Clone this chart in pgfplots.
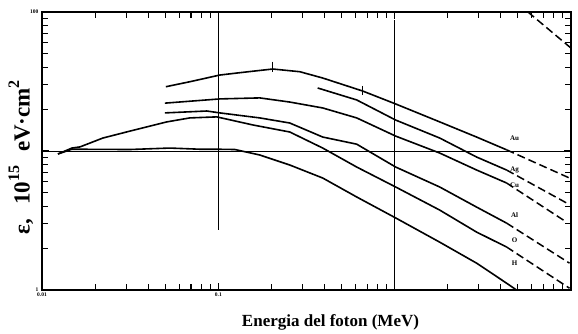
\documentclass[border=0pt]{standalone}
\usepackage{fontspec}
\setmainfont{Liberation Serif}
\usepackage{pgfplots}
\pgfplotsset{compat=1.18}
\begin{document}
\begin{tikzpicture}
\useasboundingbox (-42pt,-43pt) rectangle (536pt,290pt);
\begin{axis}[
  at={(0,0)}, anchor=south west,
  scale only axis, width=529pt, height=278pt,
  xmode=log, ymode=log,
  xmin=0.01, xmax=10, ymin=1, ymax=100,
  axis line style={line width=1.4pt},
  xtick={0.01,0.1,1,10}, xticklabels={0.01,0.1,,},
  ytick={1,10,100}, yticklabels={1,,100},
  minor xtick={0.02,0.03,0.04,0.05,0.06,0.07,0.08,0.09,0.2,0.3,0.4,0.5,0.6,0.7,0.8,0.9,2,3,4,5,6,7,8,9},
  minor ytick={2,3,4,5,6,7,8,9,20,30,40,50,60,70,80,90},
  tick align=inside, major tick length=7pt, minor tick length=6pt,
  every tick/.style={line width=1.1pt, black},
  /pgf/number format/assume math mode=true,
  ticklabel style={font=\fontsize{5.5}{6}\selectfont\bfseries},
  xticklabel style={yshift=1pt},
  xlabel={Energia del foton (MeV)},
  xlabel style={font=\fontsize{17}{19}\selectfont\bfseries, at={(axis description cs:0.5,0)}, anchor=base, yshift=-36pt, xshift=24pt},
  ylabel={ε,\hspace{0.6em}10\raisebox{0.45em}{\fontsize{16}{17}\selectfont 15}\hspace{0.6em}eV·cm\raisebox{0.45em}{\fontsize{16}{17}\selectfont 2}},
  ylabel style={font=\fontsize{23}{25}\selectfont\bfseries, at={(axis description cs:-0.040,0.478)}, anchor=center},
  crv/.style={black, solid, line width=1.6pt},
  dsh/.style={black, line width=1.5pt, dash pattern=on 8pt off 4pt},
  grd/.style={black, solid, line width=1pt},
]
% grid lines
\addplot[grd] coordinates {(0.01,10) (10,10)};
\addplot[grd] coordinates {(0.1,100) (0.1,2.7)};
\addplot[grd] coordinates {(1,87) (1,1)};
% Au
\addplot[crv] coordinates {(0.0504,29.0) (0.0689,31.5) (0.102,35.2) (0.1324,36.6) (0.2036,38.9) (0.2895,37.2) (0.391,33.5) (0.659,27.0) (1.013,21.8) (1.80,16.2) (2.915,12.6) (4.31,10.2)};
\addplot[dsh] coordinates {(4.31,10.2) (9.81,6.39)};
\addplot[grd] coordinates {(0.2036,43.9) (0.2036,37.2)};
\addplot[grd] coordinates {(0.659,29.4) (0.659,25.3)};
% Ag
\addplot[crv] coordinates {(0.366,28.4) (0.609,23.3) (1.013,16.7) (1.80,12.4) (2.915,9.05) (4.31,7.30)};
\addplot[dsh] coordinates {(4.31,7.30) (9.43,4.23)};
% Cu
\addplot[crv] coordinates {(0.0498,22.1) (0.102,23.7) (0.1718,24.1) (0.2542,22.5) (0.391,20.4) (0.609,17.3) (1.013,12.8) (1.80,9.67) (2.915,7.30) (4.31,5.89)};
\addplot[dsh] coordinates {(4.31,5.89) (9.43,3.08)};
% Al
\addplot[crv] coordinates {(0.0498,18.8) (0.0861,19.4) (0.102,18.8) (0.1718,17.3) (0.2542,15.9) (0.391,12.6) (0.609,11.2) (1.013,7.67) (1.80,5.51) (2.915,3.95) (4.31,3.03)};
\addplot[dsh] coordinates {(4.31,3.03) (9.81,1.56)};
% O
\addplot[crv] coordinates {(0.01232,9.52) (0.01479,10.5) (0.01642,10.7) (0.02216,12.4) (0.03151,13.9) (0.0511,16.2) (0.0689,17.3) (0.098,17.6) (0.1568,15.4) (0.2542,13.7) (0.391,10.5) (0.609,7.67) (1.013,5.51) (1.80,3.76) (2.915,2.61) (4.31,2.04)};
\addplot[dsh] coordinates {(4.31,2.04) (9.81,1.03)};
% H
\addplot[crv] coordinates {(0.01232,9.52) (0.01479,10.3) (0.0315,10.25) (0.0531,10.5) (0.0785,10.3) (0.098,10.3) (0.1241,10.25) (0.1718,9.36) (0.2542,7.93) (0.391,6.39) (0.609,4.67) (1.013,3.30) (1.80,2.21) (2.915,1.56) (4.31,1.12) (4.91,1.0)};
% corner
\addplot[dsh] coordinates {(5.7,100) (10,55)};
% labels
\begin{scope}[every node/.style={font=\fontsize{7}{8}\selectfont\bfseries, inner sep=0pt}]
\node at (axis cs:4.79,12.4) {Au};
\node at (axis cs:4.79,7.30) {Ag};
\node at (axis cs:4.79,5.69) {Cu};
\node at (axis cs:4.79,3.46) {Al};
\node at (axis cs:4.79,2.29) {O};
\node at (axis cs:4.79,1.56) {H};
\end{scope}
\end{axis}
\end{tikzpicture}
\end{document}
